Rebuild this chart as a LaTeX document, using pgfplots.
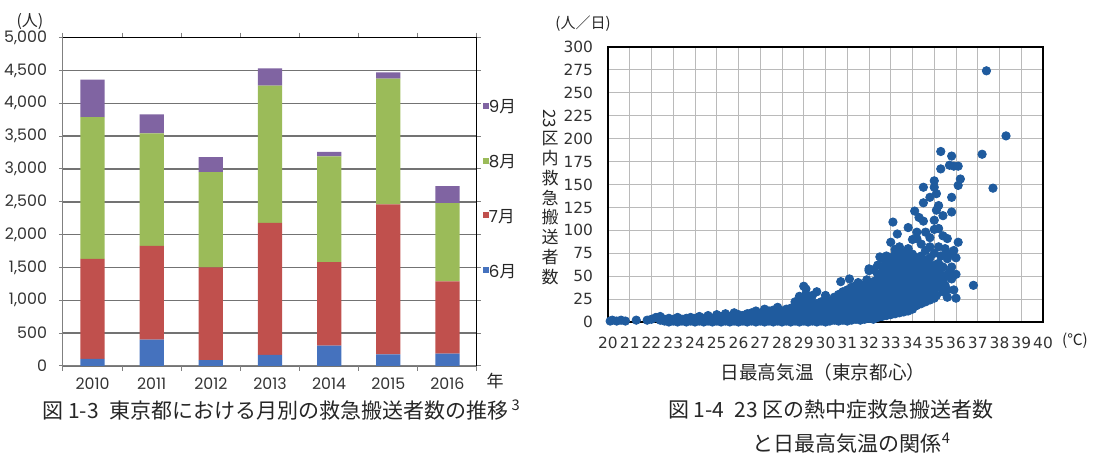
\documentclass[border=0pt]{standalone}
\usepackage{fontspec}
\usepackage{graphicx}
\usepackage{pgfplots}
\pgfplotsset{compat=1.18}
\setmainfont{Noto Sans CJK JP}
\newfontfamily\pop{Poppins}
\newfontfamily\dv{DejaVu Sans}
\definecolor{c6}{RGB}{69,114,190}
\definecolor{c7}{RGB}{192,80,77}
\definecolor{c8}{RGB}{155,187,89}
\definecolor{c9}{RGB}{128,100,162}
\definecolor{dotblue}{RGB}{31,91,158}
\newcommand{\px}[2]{({#1*0.5pt},{(459-#2)*0.5pt})}
\begin{document}
\begin{tikzpicture}
\path[use as bounding box] (0,0) rectangle (546.5pt,229.5pt);
% ---------------- left chart ----------------
\begin{axis}[
  at={(31.5pt,46.5pt)}, anchor=south west, scale only axis,
  width=207pt, height=164.2pt,
  ybar stacked, bar width=0.41,
  xmin=-0.5, xmax=6.5, ymin=0, ymax=5000,
  xtick={0,...,6}, xticklabels={2010,2011,2012,2013,2014,2015,2016},
  ytick={0,500,...,5000},
  major x tick style={draw=none},
  minor xtick={-0.5,0.5,...,6.5},
  tick align=outside,
  minor tick length=2.5pt, major tick length=2pt,
  tick style={black!50, line width=0.5pt},
  ymajorgrids, grid style={black!55, line width=0.75pt},
  axis line style={black!50, line width=0.5pt},
  ticklabel style={font=\pop\fontsize{7.9}{8}\selectfont, text=black!80},
  yticklabel style={xshift=-2.5pt},
  xticklabel style={yshift=-0.5pt},
  /pgf/number format/1000 sep={,},
  /pgf/number format/assume math mode=true,
  extra description/.code={\draw[black, line width=0.5pt] (0,1) -- (1,1) -- (1,0);},
  legend style={at={(1.0145,0.807)}, anchor=north west, draw=none, fill=none,
    inner sep=0pt, outer sep=0pt, row sep=20.35pt,
    font=\fontsize{8.3}{8}\selectfont, text=black!85,
    nodes={inner sep=0pt, text height=6pt, text depth=1pt},
    /tikz/every even column/.append style={column sep=1pt}},
  legend image code/.code={\fill[#1] (0pt,-0.5pt) rectangle (3pt,2.5pt);},
  reverse legend, legend cell align=left,
]
\addplot[fill=c6, draw=none] coordinates {(0,110) (1,400) (2,90) (3,170) (4,310) (5,175) (6,190)};
\addlegendentry{{\pop 6}月}
\addplot[fill=c7, draw=none] coordinates {(0,1520) (1,1430) (2,1410) (3,2010) (4,1270) (5,2285) (6,1100)};
\addlegendentry{{\pop 7}月}
\addplot[fill=c8, draw=none] coordinates {(0,2160) (1,1710) (2,1450) (3,2090) (4,1610) (5,1915) (6,1190)};
\addlegendentry{{\pop 8}月}
\addplot[fill=c9, draw=none] coordinates {(0,570) (1,290) (2,230) (3,260) (4,70) (5,95) (6,260)};
\addlegendentry{{\pop 9}月}
\end{axis}
% ---------------- right chart ----------------
\begin{axis}[
  at={(304pt,68.5pt)}, anchor=south west, scale only axis,
  width=217.5pt, height=137.5pt,
  xmin=20, xmax=40, ymin=0, ymax=300,
  xtick={20,...,40}, ytick={0,25,...,300},
  grid=major, grid style={black!27, line width=0.5pt},
  tick style={draw=none},
  axis line style={black, line width=0.8pt},
  ticklabel style={font=\dv\fontsize{7.7}{8}\selectfont, text=black!80},
  yticklabel style={xshift=-4pt},
  xticklabel style={yshift=-4pt},
  /pgf/number format/assume math mode=true,
  clip=false,
]
\addplot[only marks, mark=*, mark size=2.1pt, color=dotblue] coordinates {
(20.1,1)(20.2,2)(20.4,1)(20.6,2)(20.8,1)(21.3,2)(21.8,2)(22.0,3)(22.2,5)(22.4,6)(22.4,2)(22.6,1)(22.6,3)(22.8,0)(22.8,2)(22.8,4)(23.0,1)(23.0,3)(23.2,0)(23.2,2)(23.2,5)(23.4,1)(23.4,3)(23.6,0)(23.6,2)(23.6,4)(23.8,1)(23.8,3)(23.8,5)(24.0,0)(24.0,2)(24.0,4)(24.2,1)(24.2,3)(24.2,6)(24.4,0)(24.4,2)(24.4,4)(24.6,1)(24.6,3)(24.6,5)(24.6,7)(24.8,0)(24.8,2)(24.8,4)(25.0,1)(25.0,3)(25.0,5)(25.0,8)(25.2,0)(25.2,2)(25.2,4)(25.2,6)(25.4,1)(25.4,3)(25.4,5)(25.4,9)(25.6,0)(25.6,2)(25.6,4)(25.6,6)(25.8,1)(25.8,3)(25.8,5)(25.8,7)(25.8,10)(26.0,0)(26.0,2)(26.0,4)(26.0,6)(26.0,8)(26.2,1)(26.2,3)(26.2,5)(26.2,7)(26.4,0)(26.4,2)(26.4,4)(26.4,6)(26.4,9)(26.6,1)(26.6,3)(26.6,5)(26.6,7)(26.6,10)(26.8,0)(26.8,2)(26.8,4)(26.8,6)(26.8,8)(26.8,12)
(27.0,1)(27.0,3)(27.0,5)(27.0,7)(27.0,9)(27.2,0)(27.2,2)(27.2,4)(27.2,6)(27.2,8)(27.2,11)(27.2,14)(27.4,1)(27.4,3)(27.4,5)(27.4,7)(27.4,9)(27.4,12)(27.6,0)(27.6,2)(27.6,4)(27.6,6)(27.6,8)(27.6,10)(27.6,13)(27.8,1)(27.8,3)(27.8,5)(27.8,7)(27.8,9)(27.8,11)(27.8,16)(28.0,0)(28.0,2)(28.0,4)(28.0,6)(28.0,8)(28.0,10)(28.0,12)(28.2,1)(28.2,3)(28.2,5)(28.2,7)(28.2,9)(28.2,11)(28.2,14)(28.4,0)(28.4,2)(28.4,4)(28.4,6)(28.4,8)(28.4,10)(28.4,12)(28.4,15)(28.6,1)(28.6,3)(28.6,5)(28.6,7)(28.6,9)(28.6,11)(28.6,13)(28.6,17)(28.6,22)(28.8,0)(28.8,2)(28.8,4)(28.8,6)(28.8,8)(28.8,10)(28.8,12)(28.8,14)(28.8,18)(28.8,24)(28.8,28)(29.0,1)(29.0,3)(29.0,5)(29.0,7)(29.0,9)(29.0,11)(29.0,13)(29.0,16)(29.0,20)(29.0,39)(29.1,36)(29.1,30)(29.1,26)(29.2,0)(29.2,2)(29.2,4)(29.2,6)(29.2,8)(29.2,10)(29.2,12)(29.2,15)(29.2,19)(29.2,23)(29.4,1)(29.4,3)(29.4,5)(29.4,8)(29.4,11)(29.4,14)(29.4,17)(29.4,21)(29.4,29)(29.6,0)(29.6,2)(29.6,4)(29.6,7)(29.6,10)(29.6,13)(29.6,16)(29.6,20)(29.6,33)(29.8,1)(29.8,3)(29.8,5)(29.8,8)(29.8,11)(29.8,14)(29.8,18)(29.8,22)
(30.0,0)(30.0,2)(30.0,5)(30.0,8)(30.0,11)(30.0,14)(30.0,17)(30.0,21)(30.0,25)(30.0,29)(30.2,1)(30.2,3)(30.2,6)(30.2,9)(30.2,12)(30.2,15)(30.2,19)(30.2,23)(30.4,2)(30.4,4)(30.4,7)(30.4,10)(30.4,13)(30.4,16)(30.4,20)(30.4,24)(30.4,27)(30.6,1)(30.6,3)(30.6,6)(30.6,9)(30.6,12)(30.6,15)(30.6,18)(30.6,22)(30.6,26)(30.6,30)(30.7,44)(30.8,2)(30.8,5)(30.8,8)(30.8,11)(30.8,14)(30.8,17)(30.8,21)(30.8,25)(30.8,29)(30.8,33)(31.0,1)(31.0,4)(31.0,7)(31.0,10)(31.0,13)(31.0,16)(31.0,19)(31.0,23)(31.0,27)(31.0,31)(31.0,35)(31.1,47)(31.2,2)(31.2,5)(31.2,8)(31.2,11)(31.2,14)(31.2,17)(31.2,21)(31.2,25)(31.2,29)(31.2,33)(31.2,38)(31.4,3)(31.4,6)(31.4,9)(31.4,12)(31.4,15)(31.4,18)(31.4,22)(31.4,26)(31.4,30)(31.4,34)(31.4,40)(31.5,43)(31.6,2)(31.6,5)(31.6,8)(31.6,11)(31.6,14)(31.6,17)(31.6,21)(31.6,25)(31.6,29)(31.6,33)(31.6,37)(31.8,3)(31.8,6)(31.8,9)(31.8,12)(31.8,15)(31.8,19)(31.8,23)(31.8,27)(31.8,31)(31.8,36)(31.8,41)(31.9,46)
(32.0,4)(32.0,7)(32.0,10)(32.0,13)(32.0,16)(32.0,20)(32.0,24)(32.0,28)(32.0,32)(32.0,37)(32.0,42)(32.0,56)(32.0,58)(32.2,3)(32.2,6)(32.2,9)(32.2,12)(32.2,16)(32.2,20)(32.2,24)(32.2,28)(32.2,33)(32.2,38)(32.2,44)(32.2,57)(32.4,5)(32.4,8)(32.4,11)(32.4,14)(32.4,18)(32.4,22)(32.4,26)(32.4,30)(32.4,35)(32.4,40)(32.4,46)(32.4,52)(32.4,62)(32.5,71)(32.6,69)(32.6,6)(32.6,9)(32.6,12)(32.6,15)(32.6,19)(32.6,23)(32.6,27)(32.6,31)(32.6,36)(32.6,41)(32.6,47)(32.6,54)(32.6,60)(32.8,7)(32.8,10)(32.8,13)(32.8,17)(32.8,21)(32.8,25)(32.8,29)(32.8,34)(32.8,39)(32.8,44)(32.8,50)(32.8,56)(32.8,65)(32.8,72)
(33.0,8)(33.0,11)(33.0,15)(33.0,19)(33.0,23)(33.0,27)(33.0,31)(33.0,36)(33.0,41)(33.0,46)(33.0,52)(33.0,58)(33.0,64)(33.0,70)(33.0,87)(33.1,109)(33.2,9)(33.2,13)(33.2,17)(33.2,21)(33.2,25)(33.2,30)(33.2,35)(33.2,40)(33.2,45)(33.2,50)(33.2,56)(33.2,62)(33.2,68)(33.2,74)(33.2,79)(33.3,96)(33.4,10)(33.4,14)(33.4,18)(33.4,22)(33.4,27)(33.4,32)(33.4,37)(33.4,42)(33.4,47)(33.4,53)(33.4,59)(33.4,65)(33.4,71)(33.4,75)(33.4,82)(33.6,11)(33.6,15)(33.6,20)(33.6,25)(33.6,30)(33.6,35)(33.6,40)(33.6,45)(33.6,51)(33.6,57)(33.6,63)(33.6,69)(33.6,76)(33.8,12)(33.8,17)(33.8,22)(33.8,27)(33.8,32)(33.8,37)(33.8,42)(33.8,48)(33.8,54)(33.8,60)(33.8,66)(33.8,72)(33.8,80)(33.8,103)
(34.0,14)(34.0,19)(34.0,24)(34.0,29)(34.0,34)(34.0,39)(34.0,44)(34.0,50)(34.0,56)(34.0,62)(34.0,68)(34.0,74)(34.0,90)(34.1,121)(34.2,18)(34.2,23)(34.2,28)(34.2,33)(34.2,38)(34.2,44)(34.2,50)(34.2,56)(34.2,62)(34.2,70)(34.2,91)(34.2,98)(34.3,114)(34.4,20)(34.4,26)(34.4,32)(34.4,38)(34.4,44)(34.4,50)(34.4,57)(34.4,64)(34.4,72)(34.4,85)(34.5,130)(34.5,147)(34.5,110)(34.6,22)(34.6,28)(34.6,34)(34.6,40)(34.6,46)(34.6,53)(34.6,60)(34.6,67)(34.6,78)(34.6,98)(34.8,24)(34.8,30)(34.8,36)(34.8,42)(34.8,48)(34.8,55)(34.8,62)(34.8,70)(34.8,82)(34.8,92)(34.8,136)
(35.0,26)(35.0,35)(35.0,42)(35.0,50)(35.0,58)(35.0,62)(35.0,75)(35.0,101)(35.0,111)(35.0,154)(35.0,147)(35.1,122)(35.1,140)(35.1,29)(35.2,38)(35.2,46)(35.2,54)(35.2,64)(35.2,82)(35.2,102)(35.2,127)(35.3,167)(35.3,186)(35.3,72)(35.4,33)(35.4,44)(35.4,51)(35.4,60)(35.4,94)(35.4,116)(35.5,40)(35.5,80)(35.6,27)(35.6,35)(35.6,50)(35.6,69)(35.6,75)(35.6,91)(35.7,55)(35.7,74)(35.7,171)(35.8,47)(35.8,60)(35.8,136)(35.8,181)(35.8,120)(35.9,35)(35.9,78)(35.9,170)(36.0,26)(36.0,52)(36.0,70)(36.1,87)(36.1,149)(36.1,170)(36.2,156)(36.8,40)(37.2,183)(37.4,274)(37.7,146)(38.3,203)
};
\end{axis}
% ---------------- texts ----------------
\node[font=\fontsize{8}{8}\selectfont, text=black!85] at \px{30}{22} {(人)};
\node[font=\fontsize{8.5}{8.5}\selectfont, text=black!85] at \px{495}{381} {年};
\node[font=\fontsize{7.5}{8}\selectfont, text=black!85] at \px{583}{24} {(人／日)};
\node[font=\fontsize{7.7}{8}\selectfont, text=black!85, inner sep=0pt] at \px{1075}{341} {(℃)};
\node[font=\fontsize{9.3}{10}\selectfont, text=black!85] at \px{823}{372} {日最高気温（東京都心）};
\node[align=center, font=\fontsize{8.5}{9.9}\selectfont, inner sep=0pt, text=black!85] at \px{550}{197} {\rotatebox[origin=c]{-90}{23}\\区\\内\\救\\急\\搬\\送\\者\\数};
\node[anchor=west, font=\fontsize{10.5}{12}\selectfont, inner sep=0pt, text=black!85] at \px{42}{410} {図 1-3\hspace{0.5em}東京都における月別の救急搬送者数の推移\,\textsuperscript{3}};
\node[font=\fontsize{10.5}{12}\selectfont, inner sep=0pt, text=black!85] at \px{831}{410} {図 1-4\hspace{0.5em}23 区の熱中症救急搬送者数};
\node[font=\fontsize{10.5}{12}\selectfont, inner sep=0pt, text=black!85] at \px{852}{443} {と日最高気温の関係\textsuperscript{4}};
\end{tikzpicture}
\end{document}
